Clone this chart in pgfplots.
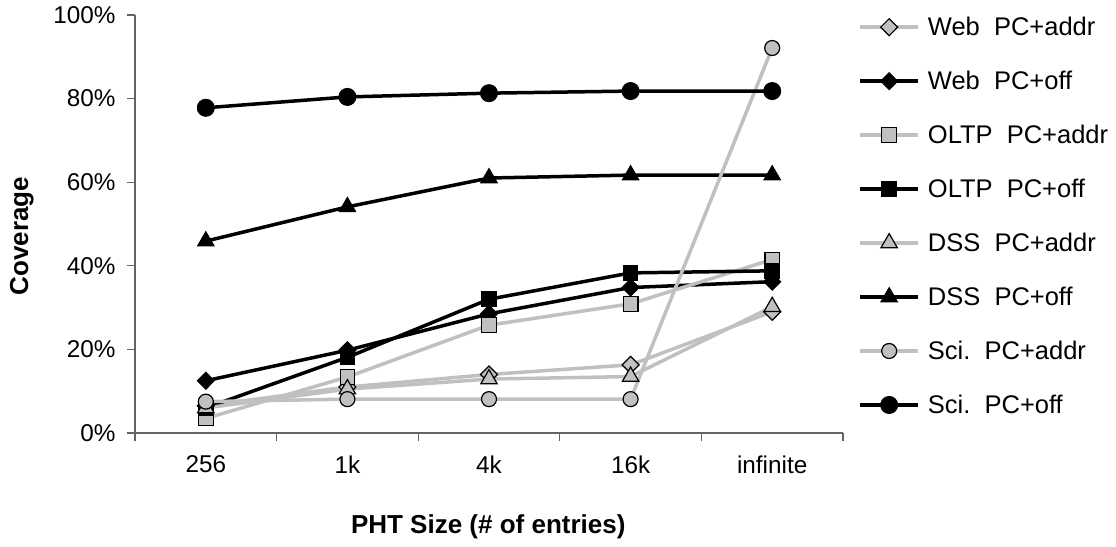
\documentclass[border=0pt]{standalone}
\usepackage{fontspec}
\setmainfont{Liberation Sans}
\usepackage{pgfplots}
\pgfplotsset{compat=1.18}
\definecolor{lgray}{RGB}{192,192,192}
\definecolor{axgray}{RGB}{100,100,100}

\pgfplotsset{
  addrline/.style={lgray, line width=3.5pt},
  offline/.style={black, line width=3.5pt},
}

\begin{document}
\begin{tikzpicture}
\useasboundingbox (0,0) rectangle (1116pt,546pt);
\begin{axis}[
  at={(135pt,113pt)}, anchor=south west,
  width=708pt, height=418pt, scale only axis,
  xmin=-0.5, xmax=4.5, ymin=0, ymax=100,
  axis x line*=bottom, axis y line*=left,
  axis line style={axgray, line width=1.2pt},
  xtick={-0.5,0.5,...,4.5}, x tick label as interval,
  xticklabels={256,1k,4k,16k,infinite},
  ytick={0,20,...,100},
  yticklabel={\pgfmathprintnumber{\tick}\%},
  /pgf/number format/assume math mode=true,
  tick style={axgray, line width=1.2pt},
  tick align=outside, major tick length=8pt,
  ticklabel style={font=\fontsize{24.3}{29}\selectfont},
  yticklabel style={xshift=-8pt},
  xticklabel style={yshift=-11pt},
  label style={font=\fontsize{26}{31}\selectfont\bfseries},
  xlabel={PHT Size (\# of entries)},
  ylabel={Coverage},
  xlabel style={at={(axis description cs:0.499,-0.225)}, anchor=center},
  ylabel style={at={(axis description cs:-0.16,0.471)}, anchor=center},
  legend style={at={(1.0215,1.0)}, anchor=north west, draw=none, fill=none,
    font=\fontsize{25.5}{30}\selectfont, row sep=30pt, inner sep=0pt,
    /tikz/every odd column/.append style={column sep=6pt}},
  legend cell align=left,
  legend image code/.code={
    \draw[mark repeat=2, mark phase=2] plot coordinates {(0pt,0pt) (29pt,0pt) (58pt,0pt)};
  },
  clip=false,
]
% Web
\addplot[addrline, mark=diamond*, mark options={fill=lgray, draw=black, line width=1.2pt, mark size=8.5pt, xscale=1.33}]
  coordinates {(0,6.5) (1,11) (2,14) (3,16.3) (4,29)};
\addlegendentry{Web\ \ PC+addr}
\addplot[offline, mark=diamond*, mark options={fill=black, draw=black, line width=1pt, mark size=8.5pt, xscale=1.33}]
  coordinates {(0,12.5) (1,19.8) (2,28.5) (3,34.8) (4,36.2)};
\addlegendentry{Web\ \ PC+off}
% OLTP
\addplot[addrline, mark=square*, mark options={fill=lgray, draw=black, line width=1.2pt, mark size=7.3pt}]
  coordinates {(0,3.5) (1,13.4) (2,25.8) (3,30.9) (4,41.5)};
\addlegendentry{OLTP\ \ PC+addr}
\addplot[offline, mark=square*, mark options={fill=black, draw=black, line width=1pt, mark size=7.3pt}]
  coordinates {(0,6) (1,18.1) (2,32) (3,38.3) (4,38.8)};
\addlegendentry{OLTP\ \ PC+off}
% DSS
\addplot[addrline, mark=triangle*, mark options={fill=lgray, draw=black, line width=1.2pt, mark size=9.5pt}]
  coordinates {(0,6) (1,10.5) (2,12.9) (3,13.5) (4,30.2)};
\addlegendentry{DSS\ \ PC+addr}
\addplot[offline, mark=triangle*, mark options={fill=black, draw=black, line width=1pt, mark size=9.5pt}]
  coordinates {(0,45.9) (1,54.1) (2,61) (3,61.7) (4,61.7)};
\addlegendentry{DSS\ \ PC+off}
% Sci.
\addplot[addrline, mark=*, mark options={fill=lgray, draw=black, line width=1.2pt, mark size=7.5pt}]
  coordinates {(0,7.5) (1,8.1) (2,8.1) (3,8.1) (4,92.1)};
\addlegendentry{Sci.\ \ PC+addr}
\addplot[offline, mark=*, mark options={fill=black, draw=black, line width=1pt, mark size=8.5pt}]
  coordinates {(0,77.8) (1,80.4) (2,81.3) (3,81.8) (4,81.8)};
\addlegendentry{Sci.\ \ PC+off}
\end{axis}
\end{tikzpicture}
\end{document}
